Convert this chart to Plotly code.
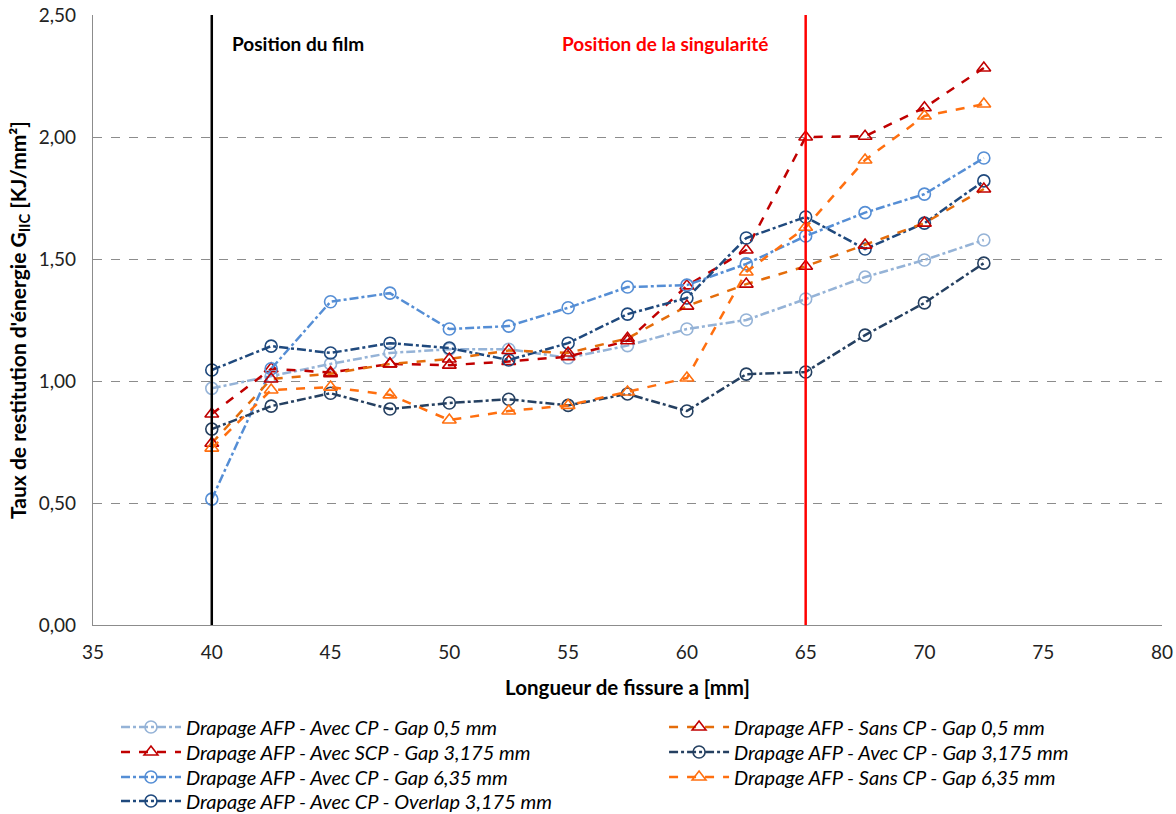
import plotly.graph_objects as go

x_vals = [40, 42.5, 45, 47.5, 50, 52.5, 55, 57.5, 60, 62.5, 65, 67.5, 70, 72.5]

avec_cp_gap05 = [0.97, 1.02, 1.07, 1.115, 1.13, 1.13, 1.095, 1.145, 1.213, 1.25, 1.336, 1.426, 1.496, 1.578]
avec_scp_gap3175 = [0.865, 1.05, 1.035, 1.07, 1.065, 1.08, 1.10, 1.165, 1.39, 1.537, 2.0, 2.003, 2.12, 2.283]
avec_cp_gap635 = [0.516, 1.05, 1.325, 1.36, 1.213, 1.225, 1.30, 1.385, 1.393, 1.48, 1.594, 1.69, 1.766, 1.914]
avec_cp_overlap3175 = [1.045, 1.143, 1.115, 1.155, 1.135, 1.086, 1.155, 1.274, 1.34, 1.586, 1.672, 1.541, 1.647, 1.82]
avec_cp_gap3175 = [0.803, 0.897, 0.95, 0.885, 0.91, 0.925, 0.90, 0.947, 0.877, 1.028, 1.037, 1.188, 1.32, 1.483]
sans_cp_gap05 = [0.745, 1.008, 1.03, 1.07, 1.09, 1.125, 1.115, 1.175, 1.307, 1.397, 1.47, 1.557, 1.647, 1.787]
sans_cp_gap635 = [0.725, 0.963, 0.975, 0.943, 0.84, 0.877, 0.90, 0.955, 1.012, 1.447, 1.63, 1.906, 2.086, 2.135]

y_ticks = [0, 0.5, 1.0, 1.5, 2.0, 2.5]
x_ticks = [35, 40, 45, 50, 55, 60, 65, 70, 75, 80]

FONT = "Lato, 'Open Sans', sans-serif"

# legend slots: (column x in paper, row y in paper)
col_x = [0.0215, 0.5342]
row_y = [-0.1672, -0.2082, -0.2492, -0.2885]

# (name, values, line colour, dash, marker symbol, marker colour, column, row)
series = [
    ("Drapage AFP - Avec CP - Gap 0,5 mm", avec_cp_gap05, "#95B3D7", "dashdot", "circle-open", "#95B3D7", 0, 0),
    ("Drapage AFP - Avec SCP - Gap 3,175 mm", avec_scp_gap3175, "#C00000", "dash", "triangle-up-open", "#C00000", 0, 1),
    ("Drapage AFP - Avec CP - Gap 6,35 mm", avec_cp_gap635, "#558ED5", "dashdot", "circle-open", "#558ED5", 0, 2),
    ("Drapage AFP - Avec CP - Overlap 3,175 mm", avec_cp_overlap3175, "#1F497D", "dashdot", "circle-open", "#1F497D", 0, 3),
    ("Drapage AFP - Sans CP - Gap 0,5 mm", sans_cp_gap05, "#E46C0A", "dash", "triangle-up-open", "#C00000", 1, 0),
    ("Drapage AFP - Avec CP - Gap 3,175 mm", avec_cp_gap3175, "#254061", "dashdot", "circle-open", "#254061", 1, 1),
    ("Drapage AFP - Sans CP - Gap 6,35 mm", sans_cp_gap635, "#FF6F0F", "dash", "triangle-up-open", "#FF6F0F", 1, 2),
]

fig = go.Figure()
legends = {}
for i, (name, ys, lc, dash, sym, mc, col, row) in enumerate(series):
    lg = "legend" if i == 0 else f"legend{i + 1}"
    fig.add_trace(go.Scatter(
        x=x_vals, y=ys, name=name, mode="lines+markers", legend=lg,
        line=dict(color=lc, width=2.5, dash=dash),
        marker=dict(symbol=sym, size=12, color=mc, line=dict(color=mc, width=1.6)),
    ))
    legends[lg] = dict(
        orientation="v", xanchor="left", yanchor="middle",
        x=col_x[col], y=row_y[row],
        font=dict(family=FONT, size=20, color="black", style="italic"),
        itemwidth=60, bgcolor="rgba(0,0,0,0)", borderwidth=0,
    )

fig.add_shape(type="line", xref="x", yref="y", x0=40, x1=40, y0=0, y1=2.5,
              line=dict(color="black", width=2.5))
fig.add_shape(type="line", xref="x", yref="y", x0=65, x1=65, y0=0, y1=2.5,
              line=dict(color="#FF0000", width=2.5))

fig.add_annotation(x=40.77, y=2.385, xref="x", yref="y", text="<b>Position du film</b>",
                   showarrow=False, xanchor="left", yanchor="middle",
                   font=dict(family=FONT, size=19, color="black"))
fig.add_annotation(x=63.5, y=2.385, xref="x", yref="y", text="<b>Position de la singularité</b>",
                   showarrow=False, xanchor="right", yanchor="middle",
                   font=dict(family=FONT, size=19, color="#FF0000"))

fig.update_layout(
    width=1176, height=814,
    margin=dict(l=93, r=14, t=15, b=189, autoexpand=False),
    paper_bgcolor="white", plot_bgcolor="white",
    separators=", ",
    font=dict(family=FONT, size=19, color="#222222"),
    showlegend=True,
    xaxis=dict(
        range=[35, 80], tickvals=x_ticks, showgrid=False,
        showline=True, linecolor="#8C8C8C", linewidth=1.2,
        ticks="", ticklabelstandoff=10,
        tickfont=dict(family=FONT, size=19, color="#222222"),
        title=dict(text="<b>Longueur de fissure a [mm]</b>", font=dict(family=FONT, size=20.5, color="black"), standoff=18),
        zeroline=False,
    ),
    yaxis=dict(
        range=[0, 2.5], tickvals=y_ticks, tickformat=".2f",
        showgrid=True, gridcolor="#8C8C8C", griddash="dash", gridwidth=1,
        showline=True, linecolor="#8C8C8C", linewidth=1.2,
        ticks="", ticklabelstandoff=12,
        tickfont=dict(family=FONT, size=19, color="#222222"),
        title=dict(text="<b>Taux de restitution d'énergie G<sub>IIC</sub> [KJ/mm²]</b>", font=dict(family=FONT, size=21, color="black"), standoff=6),
        zeroline=False,
    ),
    **legends,
)

fig.write_html("out.html", config={"displayModeBar": False},
               post_script="document.body.style.margin='0px';document.body.style.overflow='hidden';")
